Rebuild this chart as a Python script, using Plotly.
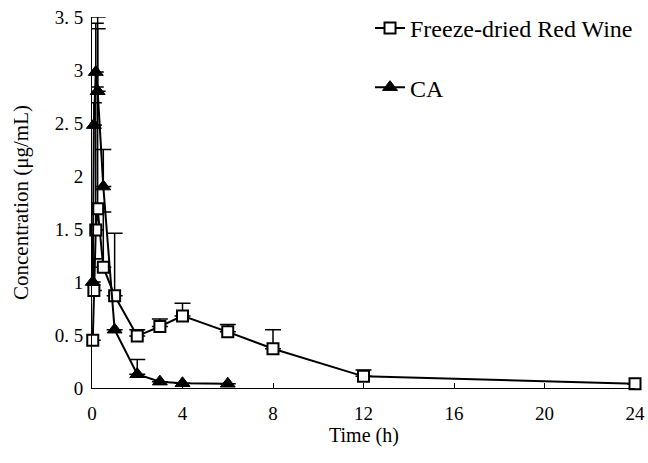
import plotly.graph_objects as go

# Freeze-dried Red Wine
wine_t = [0.033, 0.083, 0.167, 0.25, 0.5, 1, 2, 3, 4, 6, 8, 12, 24]
wine_c = [0.45, 0.92, 1.49, 1.69, 1.14, 0.87, 0.49, 0.58, 0.68, 0.53, 0.37, 0.11, 0.04]
wine_err = [0.0, 0.30, 1.35, 1.81, 0.52, 0.59, 0.06, 0.07, 0.12, 0.07, 0.18, 0.06, 0.0]

# CA
ca_t = [0.033, 0.083, 0.167, 0.25, 0.5, 1, 2, 3, 4, 6]
ca_c = [1.0, 2.48, 2.98, 2.8, 1.9, 0.55, 0.13, 0.06, 0.045, 0.04]
ca_err = [0.22, 0.21, 0.46, 0.59, 0.35, 0.0, 0.14, 0.0, 0.0, 0.0]

x_ticks = [0, 4, 8, 12, 16, 20, 24]
y_ticks = [0, 0.5, 1, 1.5, 2, 2.5, 3, 3.5]
y_ticktext = ["0", "0. 5", "1", "1. 5", "2", "2. 5", "3", "3. 5"]

FONT = "Liberation Serif"

fig = go.Figure()
fig.add_trace(go.Scatter(
    x=wine_t, y=wine_c, name="Freeze-dried Red Wine", legendgroup="a",
    mode="lines+markers", cliponaxis=False,
    line=dict(color="black", width=2),
    marker=dict(symbol="square", size=11, color="white", line=dict(color="black", width=2)),
    error_y=dict(type="data", symmetric=False, array=wine_err, arrayminus=[0]*len(wine_err),
                 color="black", thickness=1.5, width=8),
))
fig.add_trace(go.Scatter(
    x=ca_t, y=ca_c, name="CA", legendgroup="b",
    mode="lines+markers", cliponaxis=False,
    line=dict(color="black", width=2),
    marker=dict(symbol="triangle-up", size=13, color="black", line=dict(color="black", width=1)),
    error_y=dict(type="data", symmetric=False, array=ca_err, arrayminus=[0]*len(ca_err),
                 color="black", thickness=1.5, width=8),
))

fig.add_annotation(text="Time (h)", xref="paper", yref="paper", x=0.5, y=-0.128,
                   xanchor="center", yanchor="middle", showarrow=False,
                   font=dict(family=FONT, size=20, color="black"))

fig.update_layout(
    width=648, height=463,
    margin=dict(l=92, r=13, t=17, b=75, autoexpand=False),
    paper_bgcolor="white", plot_bgcolor="white",
    font=dict(family=FONT, size=18, color="black"),
    showlegend=True,
    legend=dict(x=0.512, y=1.03, xanchor="left", yanchor="top",
                font=dict(family=FONT, size=24, color="black"),
                tracegroupgap=25, traceorder="grouped",
                bgcolor="rgba(0,0,0,0)"),
    xaxis=dict(range=[0, 24], tickvals=x_ticks, ticks="inside", ticklen=5,
               tickcolor="black", showline=True, linecolor="black", linewidth=1,
               showgrid=False, zeroline=False, automargin=False,
               ticklabelstandoff=8,
               tickfont=dict(family=FONT, size=19)),
    yaxis=dict(range=[0, 3.5], tickvals=y_ticks, ticktext=y_ticktext, ticks="inside", ticklen=0,
               showline=True, linecolor="black", linewidth=1,
               showgrid=False, zeroline=False, automargin=False,
               ticklabelstandoff=4,
               title=dict(text="Concentration (μg/mL)", font=dict(family=FONT, size=21), standoff=20),
               tickfont=dict(family=FONT, size=19)),
)

fig.write_html("out.html")
